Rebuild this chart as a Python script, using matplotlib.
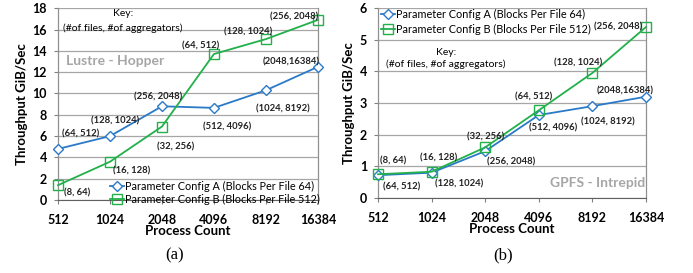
import matplotlib
matplotlib.use("Agg")
import matplotlib.pyplot as plt

plt.rcParams["font.family"] = ["Lato", "DejaVu Sans"]

procs = ["512", "1024", "2048", "4096", "8192", "16384"]

# Lustre - Hopper
lustre_a = [4.8, 6.0, 8.8, 8.65, 10.3, 12.5]
lustre_b = [1.4, 3.6, 6.9, 13.7, 15.1, 16.9]
# GPFS - Intrepid
gpfs_a = [0.72, 0.80, 1.48, 2.62, 2.90, 3.20]
gpfs_b = [0.75, 0.83, 1.60, 2.77, 3.95, 5.40]

labels_a = ["(64, 512)", "(128, 1024)", "(256, 2048)", "(512, 4096)",
            "(1024, 8192)", "(2048,16384)"]
labels_b = ["(8, 64)", "(16, 128)", "(32, 256)", "(64, 512)",
            "(128, 1024)", "(256, 2048)"]

name_a = "Parameter Config A (Blocks Per File 64)"
name_b = "Parameter Config B (Blocks Per File 512)"

BLUE = "#2a7ac8"
GREEN = "#22b04b"

# label offsets in pixels relative to the point
off_lustre_a = [(23, 15), (5, 15), (-4, 9), (13, -19), (17, -19), (-27, 5)]
off_lustre_b = [(19, -8), (22, -9), (14, -20), (-13, 8), (-18, 7), (-24, 3)]
off_gpfs_a = [(24, -12), (27, -11), (26, -11), (14, -13), (15, -16), (-21, 6)]
off_gpfs_b = [(15, 13), (7, 14), (0, 10), (-5, 13), (-14, 10), (-28, 0)]


def draw(ax, a, b, ymax, ystep, offs_a, offs_b):
    x = list(range(len(procs)))
    ax.plot(x, a, "-", color=BLUE, lw=1.3, marker="D", ms=5.5, mfc="white",
            mec=BLUE, mew=1.0, label=name_a, clip_on=False, zorder=3)
    ax.plot(x, b, "-", color=GREEN, lw=1.3, marker="s", ms=7.5, mfc="none",
            mec=GREEN, mew=1.0, label=name_b, clip_on=False, zorder=3)
    for xi, yi, t, o in zip(x, a, labels_a, offs_a):
        ax.annotate(t, (xi, yi), xytext=o, textcoords="offset pixels",
                    ha="center", va="center", fontsize=6.8, fontweight="bold",
                    color="#222222")
    for xi, yi, t, o in zip(x, b, labels_b, offs_b):
        ax.annotate(t, (xi, yi), xytext=o, textcoords="offset pixels",
                    ha="center", va="center", fontsize=6.8, fontweight="bold",
                    color="#222222")
    ax.set_xlim(0, len(procs) - 1)
    ax.set_ylim(0, ymax)
    ax.set_xticks(x)
    ax.set_xticklabels(procs)
    ax.set_yticks(range(0, ymax + 1, ystep))
    ax.grid(axis="y", color="#a6a6a6", lw=0.9)
    ax.set_axisbelow(True)
    ax.tick_params(axis="both", labelsize=9, direction="out", length=3,
                   width=0.8, color="#808080")
    ax.tick_params(axis="x", pad=7)
    ax.tick_params(axis="y", pad=5)
    for lab in ax.get_xticklabels() + ax.get_yticklabels():
        lab.set_fontweight("bold")
    ax.spines["top"].set_visible(False)
    for s in ("left", "right"):
        ax.spines[s].set_color("#909090")
        ax.spines[s].set_linewidth(0.9)
    ax.spines["bottom"].set_color("#606060")
    ax.set_xlabel("Process Count", fontsize=9.5, fontweight="bold", labelpad=-1)
    ax.set_ylabel("Throughput GiB/Sec", fontsize=9.5, fontweight="bold",
                  labelpad=3)


fig = plt.figure(figsize=(6.93, 2.73), dpi=100)

ax1 = fig.add_axes([0.0837, 0.267, 0.375, 0.703])
draw(ax1, lustre_a, lustre_b, 18, 2, off_lustre_a, off_lustre_b)
ax1.text(0.031, 0.724, "Lustre - Hopper", transform=ax1.transAxes,
         fontsize=10, fontweight="bold", color="#a6a6a6", va="center")
ax1.text(0.25, 0.974, "Key:", transform=ax1.transAxes, fontsize=7.5,
         ha="center", va="center")
ax1.text(0.25, 0.896, "(#of files, #of aggregators)", transform=ax1.transAxes,
         fontsize=7.5, ha="center", va="center")
ax1.legend(loc="lower left", bbox_to_anchor=(0.2, -0.025), frameon=False,
           fontsize=7.8, handlelength=1.3, handletextpad=0.1, labelspacing=0.2,
           borderpad=0, borderaxespad=0)

ax2 = fig.add_axes([0.5455, 0.2747, 0.3867, 0.696])
draw(ax2, gpfs_a, gpfs_b, 6, 1, off_gpfs_a, off_gpfs_b)
ax2.text(0.996, 0.079, "GPFS - Intrepid", transform=ax2.transAxes,
         fontsize=10, fontweight="bold", color="#a6a6a6", va="center",
         ha="right")
ax2.text(0.254, 0.768, "Key:", transform=ax2.transAxes, fontsize=7.5,
         ha="center", va="center")
ax2.text(0.254, 0.705, "(#of files, #of aggregators)", transform=ax2.transAxes,
         fontsize=7.5, ha="center", va="center")
ax2.legend(loc="upper left", bbox_to_anchor=(0.01, 0.995), frameon=False,
           fontsize=7.8, handlelength=1.3, handletextpad=0.1, labelspacing=0.35,
           borderpad=0, borderaxespad=0)

fig.text(175 / 693, 1 - 255 / 273, "(a)", family="Liberation Serif",
         fontsize=12, ha="center", va="center")
fig.text(503 / 693, 1 - 255 / 273, "(b)", family="Liberation Serif",
         fontsize=12, ha="center", va="center")

fig.savefig("out.png", dpi=100)
